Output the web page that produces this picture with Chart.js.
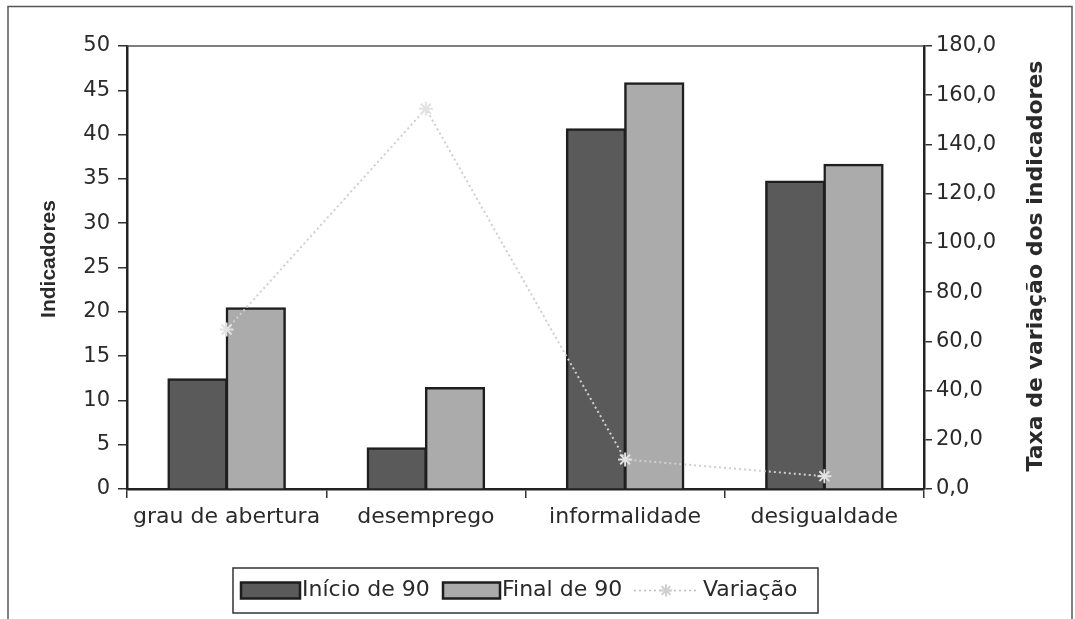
<!DOCTYPE html>
<html>
<head>
<meta charset="utf-8">
<script src="https://cdn.jsdelivr.net/npm/chart.js@4.4.1/dist/chart.umd.min.js"></script>
<style>
  html, body { margin: 0; padding: 0; background: #ffffff; }
  #wrap { width: 1075px; height: 619px; position: relative; }
</style>
</head>
<body>
<div id="wrap"><canvas id="c" width="1075" height="619"></canvas></div>
<script>
// ---- data ----
const categories = ["grau de abertura", "desemprego", "informalidade", "desigualdade"];
const inicio90 = [12.4, 4.6, 40.6, 34.7];
const final90 = [20.4, 11.4, 45.8, 36.6];
const variacao = [64.8, 154.5, 12.0, 5.2];
const seriesNames = ["Início de 90", "Final de 90", "Variação"];
const leftTitle = "Indicadores";
const rightTitle = "Taxa de variação dos indicadores";

const FONT = "'DejaVu Sans', sans-serif";
const INK = "#2a2a2a";

const framePlugin = {
  id: 'framePlugin',
  beforeDraw(chart) {
    const ctx = chart.ctx;
    ctx.save();
    ctx.fillStyle = '#ffffff';
    ctx.fillRect(0, 0, chart.width, chart.height);
    ctx.strokeStyle = '#555';
    ctx.lineWidth = 1.5;
    ctx.strokeRect(8, 6.5, 1064, 640);
    ctx.restore();
  },
  afterDraw(chart) {
    const ctx = chart.ctx;
    const a = chart.chartArea;
    ctx.save();
    // top border of plot area
    ctx.strokeStyle = '#555';
    ctx.lineWidth = 1.5;
    ctx.beginPath();
    ctx.moveTo(a.left, a.top);
    ctx.lineTo(a.right, a.top);
    ctx.stroke();

    // axis titles
    ctx.fillStyle = INK;
    ctx.font = "bold 21px 'Liberation Sans', Arial, sans-serif";
    ctx.textAlign = 'center';
    ctx.textBaseline = 'middle';
    ctx.save();
    ctx.translate(49, 259);
    ctx.rotate(-Math.PI / 2);
    ctx.fillText(leftTitle, 0, 0);
    ctx.restore();
    ctx.save();
    ctx.font = "bold 22px " + FONT;
    ctx.translate(1036, 266);
    ctx.rotate(-Math.PI / 2);
    ctx.fillText(rightTitle, 0, 0);
    ctx.restore();

    // legend
    const lx = 233, ly = 568, lw = 585, lh = 45;
    ctx.strokeStyle = '#333';
    ctx.lineWidth = 1.5;
    ctx.strokeRect(lx, ly, lw, lh);
    const cy = ly + lh / 2;
    ctx.font = "22px " + FONT;
    ctx.textAlign = 'left';
    ctx.textBaseline = 'middle';
    // swatch 1
    ctx.fillStyle = '#5a5a5a';
    ctx.fillRect(241, cy - 8, 59, 16);
    ctx.strokeStyle = '#1e1e1e';
    ctx.lineWidth = 2.5;
    ctx.strokeRect(241, cy - 8, 59, 16);
    ctx.fillStyle = INK;
    ctx.fillText(seriesNames[0], 302, cy);
    // swatch 2
    ctx.fillStyle = '#ababab';
    ctx.fillRect(443, cy - 8, 57, 16);
    ctx.strokeStyle = '#1e1e1e';
    ctx.strokeRect(443, cy - 8, 57, 16);
    ctx.fillStyle = INK;
    ctx.fillText(seriesNames[1], 502, cy);
    // line sample
    ctx.strokeStyle = '#bdbdbd';
    ctx.lineWidth = 1.5;
    ctx.setLineDash([2, 3]);
    ctx.beginPath();
    ctx.moveTo(634, cy);
    ctx.lineTo(699, cy);
    ctx.stroke();
    ctx.setLineDash([]);
    Chart.helpers.drawPoint(ctx, {pointStyle: 'star', radius: 6, rotation: 0, borderWidth: 1.5}, 666, cy);
    ctx.strokeStyle = '#cfcfcf';
    ctx.stroke();
    ctx.fillStyle = INK;
    ctx.fillText(seriesNames[2], 703, cy);
    ctx.restore();
  }
};

new Chart(document.getElementById('c'), {
  data: {
    labels: categories,
    datasets: [
      {
        type: 'line',
        label: seriesNames[2],
        data: variacao,
        yAxisID: 'y1',
        borderColor: '#cfcfcf',
        borderWidth: 2,
        borderDash: [2, 3],
        pointStyle: 'star',
        pointRadius: 7,
        pointBorderColor: '#e2e2e2',
        pointBorderWidth: 2,
        pointBackgroundColor: '#f0f0f0',
        tension: 0,
        order: 0
      },
      {
        type: 'bar',
        label: seriesNames[0],
        data: inicio90,
        yAxisID: 'y',
        backgroundColor: '#5a5a5a',
        borderColor: '#1e1e1e',
        borderWidth: 2.5,
        inflateAmount: 1,
        categoryPercentage: 0.585,
        barPercentage: 1.0,
        order: 1
      },
      {
        type: 'bar',
        label: seriesNames[1],
        data: final90,
        yAxisID: 'y',
        backgroundColor: '#ababab',
        borderColor: '#1e1e1e',
        borderWidth: 2.5,
        inflateAmount: 1,
        categoryPercentage: 0.585,
        barPercentage: 1.0,
        order: 1
      }
    ]
  },
  options: {
    responsive: false,
    animation: false,
    devicePixelRatio: 1,
    layout: { padding: { top: 46, left: 0, right: 0, bottom: 0 } },
    plugins: {
      legend: { display: false },
      tooltip: { enabled: false }
    },
    scales: {
      x: {
        offset: true,
        grid: { display: true, drawOnChartArea: false, offset: true, tickLength: 9, color: '#333', lineWidth: 1.5 },
        border: { display: true, color: '#222', width: 2.5 },
        ticks: { color: INK, font: { family: FONT, size: 22 }, padding: 6, maxRotation: 0 },
        afterFit(s) { s.height = 130; }
      },
      y: {
        position: 'left',
        min: 0, max: 50,
        ticks: { stepSize: 5, color: INK, font: { family: FONT, size: 21 }, padding: 8 },
        grid: { drawOnChartArea: false, tickLength: 9, color: '#333', lineWidth: 1.5 },
        border: { display: true, color: '#222', width: 2.5 },
        afterFit(s) { s.width = 127; }
      },
      y1: {
        position: 'right',
        min: 0, max: 180,
        ticks: {
          stepSize: 20, color: INK, font: { family: FONT, size: 21 }, padding: 4,
          callback: v => v.toFixed(1).replace('.', ',')
        },
        grid: { drawOnChartArea: false, tickLength: 8, color: '#333', lineWidth: 1.5 },
        border: { display: true, color: '#222', width: 2.5 },
        afterFit(s) { s.width = 151; }
      }
    }
  },
  plugins: [framePlugin]
});
</script>
</body>
</html>
